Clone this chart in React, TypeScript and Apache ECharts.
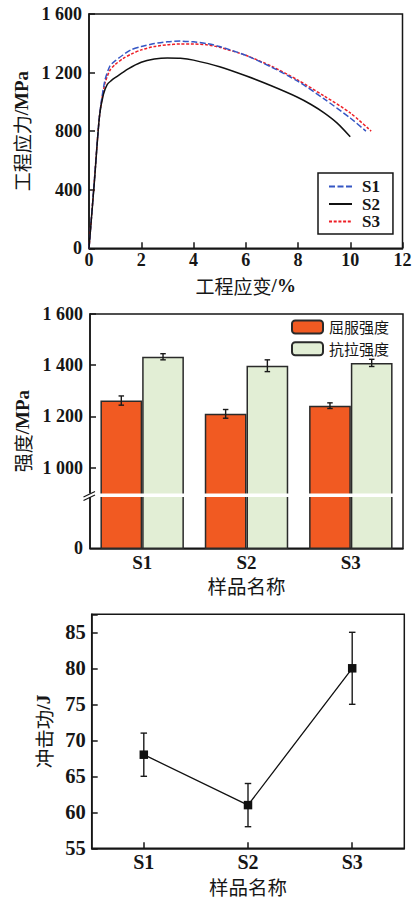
import React, { useEffect, useRef } from 'react';
import * as echarts from 'echarts';

// ---- Chart 1: engineering stress-strain curves ----
const strainS1 = [0, 0.2, 0.4, 0.6, 0.8, 1.0, 1.3, 1.6, 2.0, 2.5, 3.0, 3.5, 4.0, 4.5, 5.0, 6.0, 7.0, 8.0, 9.0, 10.0, 10.6];
const stressS1 = [0, 450, 900, 1140, 1245, 1280, 1320, 1355, 1378, 1398, 1410, 1415, 1410, 1398, 1378, 1318, 1236, 1140, 1020, 890, 800];
const strainS2 = [0, 0.2, 0.4, 0.55, 0.7, 0.85, 1.0, 1.5, 2.0, 2.5, 3.0, 3.5, 4.0, 5.0, 6.0, 7.0, 8.0, 8.5, 9.0, 9.5, 10.0];
const stressS2 = [0, 440, 900, 1050, 1120, 1145, 1165, 1225, 1270, 1292, 1300, 1298, 1285, 1240, 1178, 1108, 1030, 982, 925, 855, 762];
const strainS3 = [0, 0.2, 0.4, 0.6, 0.8, 1.0, 1.3, 1.6, 2.0, 2.5, 3.0, 3.5, 4.0, 4.5, 5.0, 6.0, 7.0, 8.0, 9.0, 10.0, 10.8];
const stressS3 = [0, 450, 900, 1120, 1215, 1255, 1295, 1325, 1355, 1378, 1390, 1395, 1395, 1390, 1372, 1318, 1242, 1148, 1040, 925, 800];
const curveNames = ['S1', 'S2', 'S3'];

// ---- Chart 2: strength bars ----
const strengthCats = ['S1', 'S2', 'S3'];
const yieldStrength = [1262, 1210, 1242];
const yieldErr = [18, 17, 11];
const tensileStrength = [1433, 1398, 1409];
const tensileErr = [12, 23, 14];
const strengthLegend = ['屈服强度', '抗拉强度'];
const strengthAxisFloor = 685; // value shown as "0" below the axis break
const strengthTicks = [1000, 1200, 1400, 1600];

// ---- Chart 3: impact energy ----
const impactCats = ['S1', 'S2', 'S3'];
const impactEnergy = [68, 61, 80];
const impactErr = [3, 3, 5];

const LATIN = 'Liberation Serif';
const CJK = 'Noto Sans CJK SC';
const INK = '#161616';

const fmtThousands = (v: number) =>
  v >= 1000 ? `${Math.floor(v / 1000)} ${String(v % 1000).padStart(3, '0')}` : String(v);

const nameRich = (size: number) => ({
  lineHeight: 19,
  rich: {
    cn: { fontFamily: CJK, fontSize: size, color: INK, lineHeight: 19 },
    en: { fontFamily: LATIN, fontWeight: 'bold', fontSize: size, color: INK, lineHeight: 19 },
  },
});

const axisLine = { show: true, lineStyle: { color: INK, width: 1.5 } };
const tickIn = { show: true, inside: true, length: 6, lineStyle: { color: INK, width: 1.5 } };
const labelBold = (size: number, margin: number) => ({
  color: INK,
  fontFamily: LATIN,
  fontWeight: 'bold',
  fontSize: size,
  margin,
});

function errorBarRender(offsetFrac: number, cap: number) {
  return (params: any, api: any) => {
    const idx = api.value(0);
    const lo = api.value(1);
    const hi = api.value(2);
    const band = api.size([1, 0])[0];
    const pLo = api.coord([idx, lo]);
    const pHi = api.coord([idx, hi]);
    const x = pLo[0] + band * offsetFrac;
    const style = { stroke: '#1a1a1a', lineWidth: 1.4, fill: null };
    return {
      type: 'group',
      children: [
        { type: 'line', shape: { x1: x, y1: pLo[1], x2: x, y2: pHi[1] }, style },
        { type: 'line', shape: { x1: x - cap / 2, y1: pLo[1], x2: x + cap / 2, y2: pLo[1] }, style },
        { type: 'line', shape: { x1: x - cap / 2, y1: pHi[1], x2: x + cap / 2, y2: pHi[1] }, style },
      ],
    };
  };
}

export default function App() {
  const ref = useRef<HTMLDivElement>(null);

  useEffect(() => {
    if (!ref.current) return;
    const chart = echarts.init(ref.current, null, { renderer: 'svg' });

    const pairs = (xs: number[], ys: number[]) => xs.map((x, i) => [x, ys[i]]);

    const option: any = {
      animation: false,
      backgroundColor: '#fff',
      textStyle: { fontFamily: LATIN },
      grid: [
        { left: 89, top: 14, width: 313.5, height: 234.3, show: true, borderColor: INK, borderWidth: 1.5, backgroundColor: 'transparent', outerBoundsMode: 'none', containLabel: false },
        { left: 90, top: 314, width: 313, height: 234.3, show: true, borderColor: INK, borderWidth: 1.5, backgroundColor: 'transparent', outerBoundsMode: 'none', containLabel: false },
        { left: 91.7, top: 614.3, width: 312.6, height: 234, show: true, borderColor: INK, borderWidth: 1.5, backgroundColor: 'transparent', outerBoundsMode: 'none', containLabel: false },
      ],
      legend: [
        {
          data: curveNames,
          orient: 'vertical',
          left: 318,
          top: 173,
          padding: [5, 13, 4, 10],
          itemWidth: 23,
          itemHeight: 14,
          itemGap: 0.5,
          borderColor: INK,
          borderWidth: 1.5,
          backgroundColor: '#fff',
          itemStyle: { opacity: 0 },
          textStyle: { fontFamily: LATIN, fontWeight: 'bold', fontSize: 17, lineHeight: 17, color: INK, padding: [0, 0, 0, 5] },
        },
        {
          data: strengthLegend,
          orient: 'vertical',
          left: 291,
          top: 316,
          padding: 0,
          itemWidth: 31,
          itemHeight: 13,
          itemGap: 0,
          textStyle: { fontFamily: CJK, fontSize: 15, lineHeight: 21.8, color: INK, padding: [0, 0, 0, 1] },
        },
      ],
      xAxis: [
        {
          gridIndex: 0,
          type: 'value',
          min: 0,
          max: 12,
          interval: 2,
          axisLine,
          axisTick: tickIn,
          splitLine: { show: false },
          axisLabel: labelBold(18, 3),
          name: '{cn|工程应变}{en|/%}',
          nameLocation: 'middle',
          nameGap: 28,
          nameTextStyle: nameRich(19),
        },
        {
          gridIndex: 1,
          type: 'category',
          data: strengthCats,
          axisLine,
          axisTick: { show: false },
          splitLine: { show: false },
          axisLabel: labelBold(19, 5),
          name: '{cn|样品名称}',
          nameLocation: 'middle',
          nameGap: 28,
          nameTextStyle: nameRich(19.5),
        },
        {
          gridIndex: 2,
          type: 'category',
          data: impactCats,
          boundaryGap: true,
          axisLine,
          axisTick: { ...tickIn, alignWithLabel: true },
          splitLine: { show: false },
          axisLabel: labelBold(20, 3.5),
          name: '{cn|样品名称}',
          nameLocation: 'middle',
          nameGap: 29,
          nameTextStyle: nameRich(19.5),
        },
      ],
      yAxis: [
        {
          gridIndex: 0,
          type: 'value',
          min: 0,
          max: 1600,
          interval: 400,
          axisLine,
          axisTick: tickIn,
          splitLine: { show: false },
          axisLabel: { ...labelBold(18, 7), formatter: (v: number) => fmtThousands(v) },
          name: '{cn|工程应力}{en|/MPa}',
          nameLocation: 'middle',
          nameGap: 54,
          nameTextStyle: nameRich(19),
        },
        {
          gridIndex: 1,
          type: 'value',
          min: strengthAxisFloor,
          max: 1600,
          axisLine,
          axisTick: { ...tickIn, customValues: strengthTicks },
          splitLine: { show: false },
          axisLabel: {
            ...labelBold(18, 7),
            customValues: [strengthAxisFloor, ...strengthTicks],
            formatter: (v: number) => (v === strengthAxisFloor ? '0' : fmtThousands(v)),
          },
          name: '{cn|强度}{en|/MPa}',
          nameLocation: 'middle',
          nameGap: 56,
          nameTextStyle: nameRich(19),
        },
        {
          gridIndex: 2,
          type: 'value',
          min: 55,
          max: 87.5,
          interval: 5,
          axisLine,
          axisTick: tickIn,
          splitLine: { show: false },
          axisLabel: { ...labelBold(20.5, 6), formatter: (v: number) => (v % 5 === 0 ? String(v) : '') },
          name: '{cn|冲击功}{en|/J}',
          nameLocation: 'middle',
          nameGap: 39,
          nameTextStyle: nameRich(19.5),
        },
      ],
      series: [
        {
          name: 'S1',
          type: 'line',
          xAxisIndex: 0,
          yAxisIndex: 0,
          data: pairs(strainS1, stressS1),
          symbol: 'none',
          smooth: 0.25,
          lineStyle: { color: '#3556c4', width: 1.5, type: [6, 2.5] },
          itemStyle: { color: '#3556c4' },
          z: 3,
        },
        {
          name: 'S2',
          type: 'line',
          xAxisIndex: 0,
          yAxisIndex: 0,
          data: pairs(strainS2, stressS2),
          symbol: 'none',
          smooth: 0.25,
          lineStyle: { color: '#111', width: 1.5, type: 'solid' },
          itemStyle: { color: '#111' },
        },
        {
          name: 'S3',
          type: 'line',
          xAxisIndex: 0,
          yAxisIndex: 0,
          data: pairs(strainS3, stressS3),
          symbol: 'none',
          smooth: 0.25,
          lineStyle: { color: '#ee1d25', width: 1.5, type: [3, 1.7] },
          itemStyle: { color: '#ee1d25' },
          z: 2,
        },
        {
          name: '屈服强度',
          type: 'bar',
          xAxisIndex: 1,
          yAxisIndex: 1,
          data: yieldStrength,
          barWidth: '40%',
          barGap: '0%',
          clip: true,
          itemStyle: { color: '#f15a22', borderColor: '#2a2a2a', borderWidth: 1.5 },
        },
        {
          name: '抗拉强度',
          type: 'bar',
          xAxisIndex: 1,
          yAxisIndex: 1,
          data: tensileStrength,
          barWidth: '40%',
          barGap: '0%',
          clip: true,
          itemStyle: { color: '#e2eed5', borderColor: '#2a2a2a', borderWidth: 1.5 },
        },
        {
          type: 'custom',
          xAxisIndex: 1,
          yAxisIndex: 1,
          data: yieldStrength.map((v, i) => [i, v - yieldErr[i], v + yieldErr[i]]),
          encode: { x: 0, y: [1, 2] },
          renderItem: errorBarRender(-0.2, 5.5),
          z: 5,
        },
        {
          type: 'custom',
          xAxisIndex: 1,
          yAxisIndex: 1,
          data: tensileStrength.map((v, i) => [i, v - tensileErr[i], v + tensileErr[i]]),
          encode: { x: 0, y: [1, 2] },
          renderItem: errorBarRender(0.2, 5.5),
          z: 5,
        },
        {
          type: 'line',
          xAxisIndex: 2,
          yAxisIndex: 2,
          data: impactEnergy,
          symbol: 'rect',
          symbolSize: 8.5,
          lineStyle: { color: '#111', width: 1.3 },
          itemStyle: { color: '#111' },
          z: 4,
        },
        {
          type: 'custom',
          xAxisIndex: 2,
          yAxisIndex: 2,
          data: impactEnergy.map((v, i) => [i, v - impactErr[i], v + impactErr[i]]),
          encode: { x: 0, y: [1, 2] },
          renderItem: errorBarRender(0, 6.5),
          z: 3,
        },
      ],
      graphic: [
        // axis break band in the strength chart
        { type: 'rect', z: 100, shape: { x: 86, y: 493.5, width: 315.5, height: 3.6 }, style: { fill: '#fff' } },
        { type: 'line', z: 101, shape: { x1: 83.5, y1: 497, x2: 95, y2: 491.5 }, style: { stroke: INK, lineWidth: 1.2 } },
        { type: 'line', z: 101, shape: { x1: 83.5, y1: 500.5, x2: 95, y2: 495 }, style: { stroke: INK, lineWidth: 1.2 } },
      ],
    };

    chart.setOption(option);
    return () => chart.dispose();
  }, []);

  return (
    <div
      ref={ref}
      style={{ position: 'absolute', left: 0, top: 0, width: 414, height: 900, background: '#fff' }}
    />
  );
}
